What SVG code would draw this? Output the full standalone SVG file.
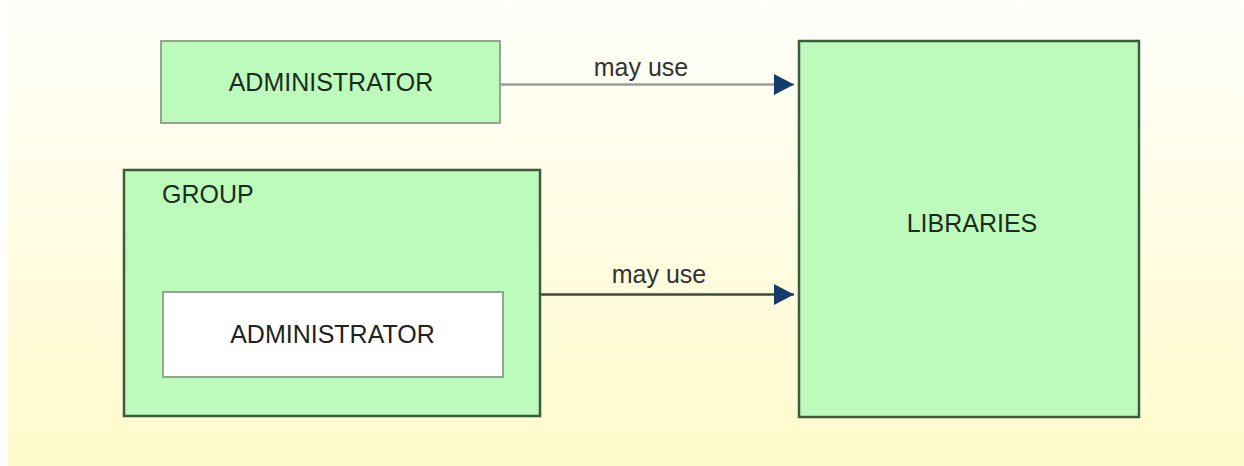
<svg xmlns="http://www.w3.org/2000/svg" width="1244" height="466" viewBox="0 0 1244 466">
<defs>
<linearGradient id="bg" x1="0" y1="0" x2="0" y2="1">
<stop offset="0" stop-color="#fffffb"/>
<stop offset="1" stop-color="#fffacb"/>
</linearGradient>
<marker id="arr" viewBox="0 0 20 21" refX="20" refY="10.5" markerWidth="20" markerHeight="21" markerUnits="userSpaceOnUse" orient="auto">
<path d="M0,0 L20,10.5 L0,21 Z" fill="#163c6e"/>
</marker>
<style>
text{font-family:"Liberation Sans",Arial,sans-serif;font-size:25px}
.lbl{fill:#1d2b1d}
.green{fill:#bdfbbd}
.dark{stroke:#3c5a3c;stroke-width:2.5}
.light{stroke:#8a9e8a;stroke-width:1.8}
</style>
</defs>
<rect x="0" y="0" width="1244" height="466" fill="#ffffff"/>
<rect x="8" y="0" width="1236" height="466" fill="url(#bg)"/>
<g id="connectors">
<line x1="500" y1="84.5" x2="794" y2="84.5" stroke="#9c9c98" stroke-width="2.5" marker-end="url(#arr)"/>
<text x="641" y="76" text-anchor="middle" fill="#333">may use</text>
<line x1="540" y1="294.5" x2="794" y2="294.5" stroke="#3c4a3c" stroke-width="2.5" marker-end="url(#arr)"/>
<text x="659" y="283" text-anchor="middle" fill="#333">may use</text>
</g>
<g id="admin-top">
<rect x="161" y="41" width="339" height="82" class="green light"/>
<text x="331" y="91" text-anchor="middle" class="lbl">ADMINISTRATOR</text>
</g>
<g id="group">
<rect x="124" y="170" width="416" height="246" class="green dark"/>
<text x="162" y="203" class="lbl">GROUP</text>
</g>
<g id="admin-inner">
<rect x="163" y="292" width="340" height="85" fill="#ffffff" class="light"/>
<text x="332.5" y="343" text-anchor="middle" fill="#222">ADMINISTRATOR</text>
</g>
<g id="libraries">
<rect x="799" y="41" width="340" height="376" class="green dark"/>
<text x="972" y="232" text-anchor="middle" class="lbl">LIBRARIES</text>
</g>
</svg>
